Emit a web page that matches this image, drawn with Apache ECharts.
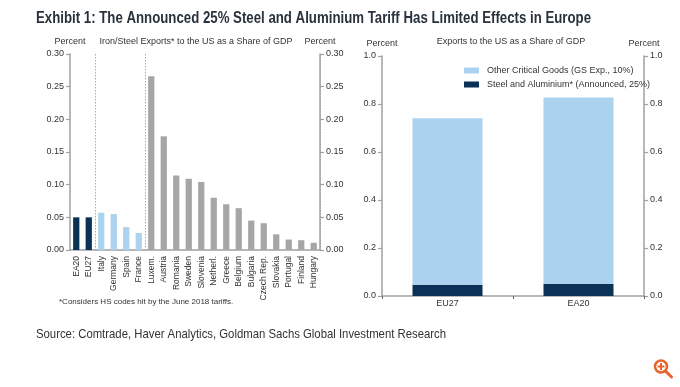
<!DOCTYPE html>
<html><head><meta charset="utf-8">
<script src="https://cdn.jsdelivr.net/npm/echarts@6/dist/echarts.min.js"></script>
<style>html,body{margin:0;padding:0;background:#fff}#c{width:680px;height:387px}</style>
</head><body><div id="c"></div>
<script>
// Left panel data
const countries = ['EA20','EU27','Italy','Germany','Spain','France','Luxem.','Austria','Romania','Sweden','Slovenia','Netherl.','Greece','Belgium','Bulgaria','Czech Rep.','Slovakia','Portugal','Finland','Hungary'];
const steelShare = [0.050,0.050,0.057,0.055,0.035,0.026,0.266,0.174,0.114,0.109,0.104,0.080,0.070,0.064,0.045,0.041,0.024,0.016,0.015,0.011];
const groupOf = ['agg','agg','big','big','big','big','o','o','o','o','o','o','o','o','o','o','o','o','o','o'];
// Right panel data
const regions = ['EU27','EA20'];
const steelAlu = [0.047,0.050];
const otherCritical = [0.694,0.777];

const NAVY = '#0b3157', LIGHT = '#abd2ef', GRAY = '#a6a6a6', AX = '#a0a0a0', TXT = '#333';
const FONT = 'Liberation Sans, Arial, sans-serif';
const colorFor = {agg: NAVY, big: LIGHT, o: GRAY};

const TITLE = 'Exhibit 1: The Announced 25% Steel and Aluminium Tariff Has Limited Effects in Europe';
const SOURCE = 'Source: Comtrade, Haver Analytics, Goldman Sachs Global Investment Research';
const TITLE_FONT = 'bold 16px "Liberation Sans", Arial, sans-serif';
const SOURCE_FONT = '13px "Liberation Sans", Arial, sans-serif';
const mctx = document.createElement('canvas').getContext('2d');
function fitScale(text, font, w) { mctx.font = font; return w / mctx.measureText(text).width; }

const chart = echarts.init(document.getElementById('c'), null, {renderer: 'canvas'});

function yAx(grid, max, interval, pos, decimals) {
  return {
    type: 'value', gridIndex: grid, min: 0, max: max, interval: interval, position: pos,
    name: 'Percent', nameLocation: 'end', nameGap: 8,
    nameTextStyle: {color: TXT, fontSize: 9, fontFamily: FONT, align: 'center', verticalAlign: 'bottom'},
    axisLine: {show: true, lineStyle: {color: AX, width: 1.5}},
    axisTick: {show: true, length: 4, lineStyle: {color: AX, width: 1.2}},
    axisLabel: {color: TXT, fontSize: 9, fontFamily: FONT, margin: 6, formatter: v => v.toFixed(decimals)},
    splitLine: {show: false}
  };
}

const option = {
  backgroundColor: '#fff',
  animation: false,
  textStyle: {fontFamily: FONT},
  grid: [
    {left: 70, top: 54, width: 250, height: 196},
    {left: 382, top: 56, width: 262, height: 240}
  ],
  xAxis: [
    {type: 'category', gridIndex: 0, data: countries,
     axisLine: {lineStyle: {color: AX, width: 1.5}},
     axisTick: {show: false},
     axisLabel: {rotate: 90, interval: 0, color: TXT, fontSize: 8.5, fontFamily: FONT, margin: 6},
     splitLine: {show: true, interval: (i) => i === 2 || i === 6, lineStyle: {color: '#aaa', type: [1.5, 1.5], width: 1}}
    },
    {type: 'category', gridIndex: 1, data: regions,
     axisLine: {lineStyle: {color: AX, width: 1.5}},
     axisTick: {show: true, length: 3, interval: 0, lineStyle: {color: '#666'}},
     axisLabel: {color: TXT, fontSize: 9, fontFamily: FONT, margin: 3}
    }
  ],
  yAxis: [
    yAx(0, 0.30, 0.05, 'left', 2),
    yAx(0, 0.30, 0.05, 'right', 2),
    yAx(1, 1.0, 0.2, 'left', 1),
    yAx(1, 1.0, 0.2, 'right', 1)
  ],
  legend: {
    left: 459, top: 61, orient: 'vertical', itemWidth: 15, itemHeight: 6, itemGap: 5,
    textStyle: {color: TXT, fontSize: 9, fontFamily: FONT, padding: [0,0,0,3]},
    data: ['Other Critical Goods (GS Exp., 10%)', 'Steel and Aluminium* (Announced, 25%)'],
    icon: 'rect'
  },
  series: [
    {type: 'bar', xAxisIndex: 0, yAxisIndex: 0, barWidth: '50%',
     data: steelShare.map((v, i) => ({value: v, itemStyle: {color: colorFor[groupOf[i]]}}))},
    {name: 'Steel and Aluminium* (Announced, 25%)', type: 'bar', stack: 's', xAxisIndex: 1, yAxisIndex: 2,
     barWidth: 70, itemStyle: {color: NAVY}, data: steelAlu},
    {name: 'Other Critical Goods (GS Exp., 10%)', type: 'bar', stack: 's', xAxisIndex: 1, yAxisIndex: 2,
     barWidth: 70, itemStyle: {color: LIGHT}, data: otherCritical}
  ],
  graphic: [
    {type: 'text', x: 36, y: 19, scaleX: fitScale(TITLE, TITLE_FONT, 555),
     style: {text: TITLE, fill: '#27323d', font: TITLE_FONT, textVerticalAlign: 'middle'}},
    {type: 'text', x: 196, y: 42, style: {text: 'Iron/Steel Exports* to the US as a Share of GDP', fill: TXT, font: '9px ' + FONT, textAlign: 'center', textVerticalAlign: 'middle'}},
    {type: 'text', x: 511, y: 42, style: {text: 'Exports to the US as a Share of GDP', fill: TXT, font: '9px ' + FONT, textAlign: 'center', textVerticalAlign: 'middle'}},
    {type: 'text', x: 59, y: 302, style: {text: '*Considers HS codes hit by the June 2018 tariffs.', fill: TXT, font: '8px ' + FONT, textVerticalAlign: 'middle'}},
    {type: 'text', x: 36, y: 334, scaleX: fitScale(SOURCE, SOURCE_FONT, 410),
     style: {text: SOURCE, fill: '#333', font: SOURCE_FONT, textVerticalAlign: 'middle'}},
    {type: 'circle', shape: {cx: 661, cy: 366.5, r: 6}, style: {fill: 'none', stroke: '#e8642c', lineWidth: 2.5}},
    {type: 'line', shape: {x1: 665.5, y1: 371, x2: 671.5, y2: 377}, style: {stroke: '#e8642c', lineWidth: 3, lineCap: 'round'}},
    {type: 'line', shape: {x1: 657.5, y1: 366.5, x2: 664.5, y2: 366.5}, style: {stroke: '#e8642c', lineWidth: 2}},
    {type: 'line', shape: {x1: 661, y1: 363, x2: 661, y2: 370}, style: {stroke: '#e8642c', lineWidth: 2}}
  ]
};
chart.setOption(option);
</script></body></html>
